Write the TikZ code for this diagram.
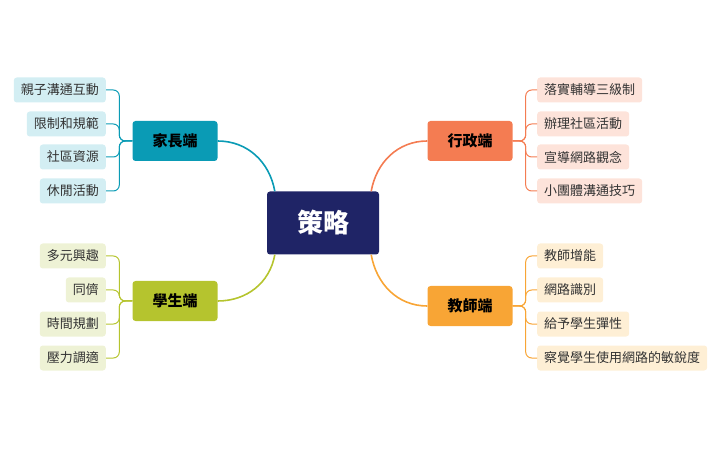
\documentclass[tikz,border=0pt]{standalone}
\usepackage{fontspec}
\setmainfont{Noto Sans CJK TC}
\usetikzlibrary{positioning}
\definecolor{navy}{HTML}{1F2466}
\definecolor{teal}{HTML}{0A9BB5}
\definecolor{coral}{HTML}{F47C52}
\definecolor{lime}{HTML}{B5C42E}
\definecolor{amber}{HTML}{F8A535}
\definecolor{tealbg}{HTML}{D3EEF3}
\definecolor{coralbg}{HTML}{FDE3DA}
\definecolor{limebg}{HTML}{EEF2D5}
\definecolor{amberbg}{HTML}{FEEFD5}
\definecolor{txt}{HTML}{333333}
\tikzset{
  branch/.style={rounded corners=3pt, text=black, font=\bfseries\fontsize{15}{17}\selectfont,
    minimum width=85pt, minimum height=40pt, inner sep=0pt},
  leaf/.style={rounded corners=3pt, text=txt, font=\fontsize{13}{15}\selectfont,
    minimum height=25pt, inner xsep=7pt, inner ysep=0pt},
  link/.style={line width=1.6pt},
  twig/.style={line width=1pt, rounded corners=6pt}
}
\begin{document}
\begin{tikzpicture}[x=1pt,y=-1pt]
\useasboundingbox (0,0) rectangle (726,449);

\node[fill=navy, text=white, rounded corners=3pt, font=\bfseries\fontsize{26}{30}\selectfont,
  minimum width=112pt, minimum height=63pt] (core) at (323,223) {策略};

\node[branch, fill=teal] (parent) at (175,141) {家長端};
\node[branch, fill=coral] (admin) at (470,141) {行政端};
\node[branch, fill=lime] (student) at (175,301) {學生端};
\node[branch, fill=amber] (teacher) at (470,306) {教師端};

\draw[link, teal] (core.north west) ++(8,0) to[out=100, in=0] (parent.east);
\draw[link, coral] (core.north east) ++(-8,0) to[out=80, in=180] (admin.west);
\draw[link, lime] (core.south west) ++(8,0) to[out=-100, in=0] (student.east);
\draw[link, amber] (core.south east) ++(-8,0) to[out=-80, in=180] (teacher.west);

% parent side
\node[leaf, fill=tealbg, anchor=east] (p1) at (106,90) {親子溝通互動};
\node[leaf, fill=tealbg, anchor=east] (p2) at (106,124) {限制和規範};
\node[leaf, fill=tealbg, anchor=east] (p3) at (106,157) {社區資源};
\node[leaf, fill=tealbg, anchor=east] (p4) at (106,191) {休閒活動};
\foreach \n in {p1,p2,p3,p4}
  \draw[twig, teal] (parent.west) -- ++(-13,0) |- (\n.east);

% student side
\node[leaf, fill=limebg, anchor=east] (s1) at (106,256) {多元興趣};
\node[leaf, fill=limebg, anchor=east] (s2) at (106,290) {同儕};
\node[leaf, fill=limebg, anchor=east] (s3) at (106,324) {時間規劃};
\node[leaf, fill=limebg, anchor=east] (s4) at (106,358) {壓力調適};
\foreach \n in {s1,s2,s3,s4}
  \draw[twig, lime] (student.west) -- ++(-13,0) |- (\n.east);

% admin side
\node[leaf, fill=coralbg, anchor=west] (a1) at (537,90) {落實輔導三級制};
\node[leaf, fill=coralbg, anchor=west] (a2) at (537,124) {辦理社區活動};
\node[leaf, fill=coralbg, anchor=west] (a3) at (537,157) {宣導網路觀念};
\node[leaf, fill=coralbg, anchor=west] (a4) at (537,191) {小團體溝通技巧};
\foreach \n in {a1,a2,a3,a4}
  \draw[twig, coral] (admin.east) -- ++(13,0) |- (\n.west);

% teacher side
\node[leaf, fill=amberbg, anchor=west] (t1) at (537,256) {教師增能};
\node[leaf, fill=amberbg, anchor=west] (t2) at (537,290) {網路識別};
\node[leaf, fill=amberbg, anchor=west] (t3) at (537,324) {給予學生彈性};
\node[leaf, fill=amberbg, anchor=west] (t4) at (537,358) {察覺學生使用網路的敏銳度};
\foreach \n in {t1,t2,t3,t4}
  \draw[twig, amber] (teacher.east) -- ++(13,0) |- (\n.west);
\end{tikzpicture}
\end{document}
